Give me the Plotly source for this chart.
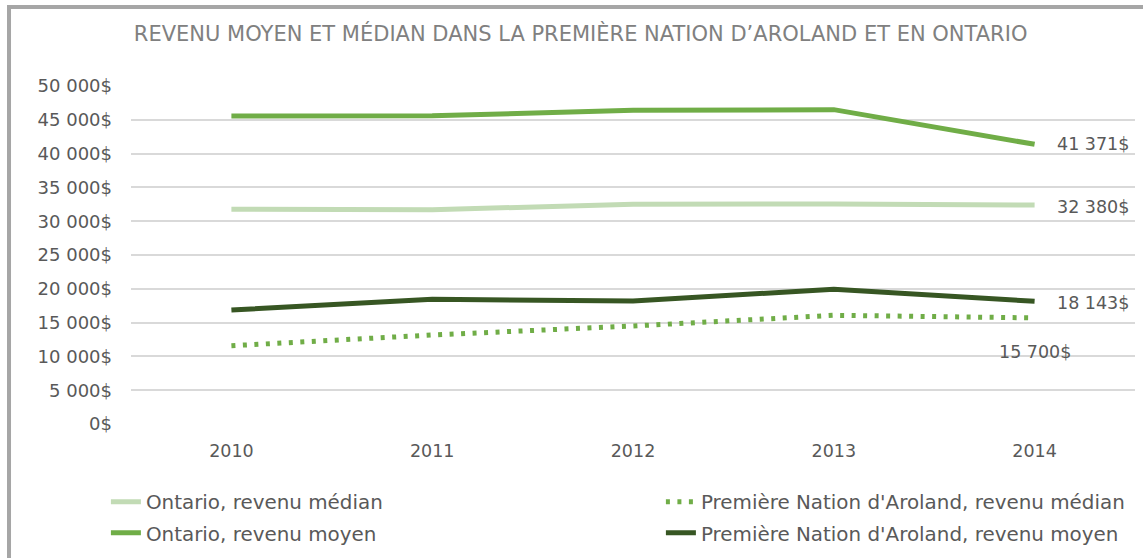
import plotly.graph_objects as go

years = ["2010", "2011", "2012", "2013", "2014"]
ontario_median = [31760, 31700, 32500, 32550, 32380]
aroland_median = [11580, 13170, 14500, 16080, 15700]
ontario_mean = [45560, 45600, 46400, 46500, 41371]
aroland_mean = [16860, 18450, 18200, 19930, 18143]
y_ticks = [0, 5000, 10000, 15000, 20000, 25000, 30000, 35000, 40000, 45000, 50000]
y_tick_text = ["0$", "5 000$", "10 000$", "15 000$", "20 000$", "25 000$", "30 000$",
               "35 000$", "40 000$", "45 000$", "50 000$"]
title_text = "REVENU MOYEN ET MÉDIAN DANS LA PREMIÈRE NATION D’AROLAND ET EN ONTARIO"

FONT = "'DejaVu Sans', sans-serif"
TXT = "#595959"

def fmt(v):
    s = f"{v:,}".replace(",", " ")
    return s + "$"

fig = go.Figure()
series = [
    ("Ontario, revenu médian", ontario_median, "#C2DBB5", "solid", "legend"),
    ("Première Nation d'Aroland, revenu médian", aroland_median, "#70AD47", "4px,7.5px", "legend"),
    ("Ontario, revenu moyen", ontario_mean, "#70AD47", "solid", "legend2"),
    ("Première Nation d'Aroland, revenu moyen", aroland_mean, "#375623", "solid", "legend2"),
]
for name, vals, col, dash, lg in series:
    fig.add_trace(go.Scatter(x=years, y=vals, name=name, mode="lines",
                             line=dict(color=col, dash=dash, width=5),
                             legend=lg, hoverinfo="x+y"))

last = len(years) - 1
label_specs = [
    (ontario_mean, 20, 0, "left"),
    (ontario_median, 20, -2, "left"),
    (aroland_mean, 20, -2, "left"),
    (aroland_median, 0, -34, "center"),
]
for vals, xs, ys, anchor in label_specs:
    fig.add_annotation(x=last, y=vals[-1], xref="x", yref="y", text=fmt(vals[-1]),
                       showarrow=False, xanchor=anchor, yanchor="middle",
                       xshift=xs, yshift=ys, font=dict(family=FONT, size=17.5, color=TXT))

legend_common = dict(orientation="h", xanchor="left", yanchor="middle",
                     entrywidth=510, entrywidthmode="pixels", traceorder="normal",
                     font=dict(family=FONT, size=19.9, color=TXT), bgcolor="rgba(0,0,0,0)")

fig.update_layout(
    width=1143, height=558,
    margin=dict(l=131, r=8, t=86, b=134, autoexpand=False),
    paper_bgcolor="white", plot_bgcolor="white",
    title=dict(text=title_text, x=0.508, xanchor="center", y=0.94, yanchor="middle",
               font=dict(family=FONT, size=21, color="#808080")),
    xaxis=dict(type="category", range=[-0.5, 4.5], showgrid=False, zeroline=False,
               showline=False, ticks="", tickfont=dict(family=FONT, size=17.5, color=TXT),
               ticklabelstandoff=14),
    yaxis=dict(range=[0, 50000], tickvals=y_ticks, ticktext=y_tick_text, showgrid=True,
               gridcolor="#D9D9D9", gridwidth=1.5, zeroline=False, showline=False, ticks="",
               tickfont=dict(family=FONT, size=18, color=TXT), ticklabelstandoff=18),
    showlegend=True,
    legend=dict(x=-0.025, y=-0.23, **legend_common),
    legend2=dict(x=-0.025, y=-0.322, **legend_common),
    shapes=[dict(type="rect", xref="paper", yref="paper", x0=-0.1215, x1=1.2,
                 y0=-0.6, y1=1.234, line=dict(color="#A6A6A6", width=4),
                 fillcolor="rgba(0,0,0,0)", layer="below")],
)

fig.write_html("out.html", config={"displayModeBar": False},
               post_script="document.body.style.margin='0';")
